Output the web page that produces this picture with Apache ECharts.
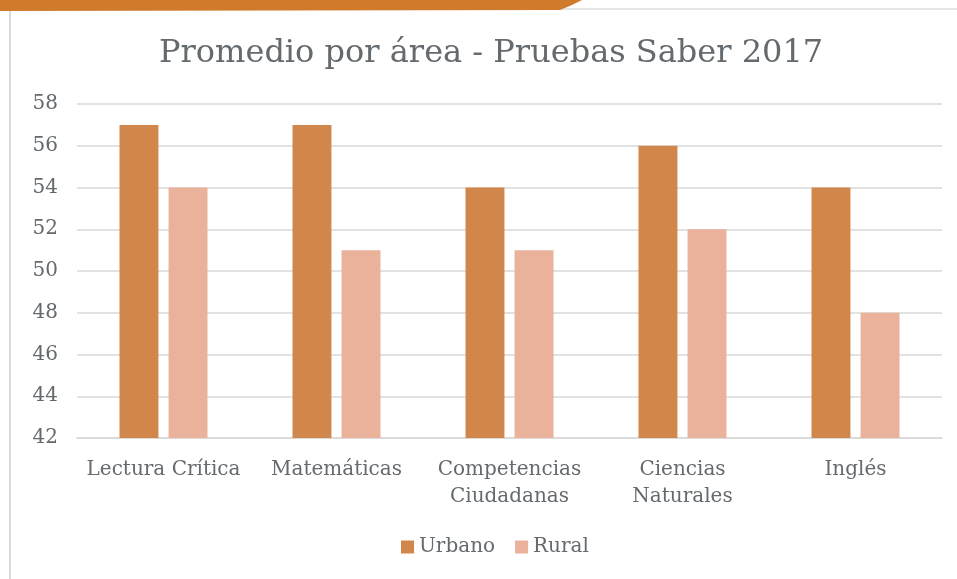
<!DOCTYPE html>
<html>
<head>
<meta charset="utf-8">
<script src="https://cdn.jsdelivr.net/npm/echarts@6/dist/echarts.min.js"></script>
<style>
  html, body { margin: 0; padding: 0; background: #fff; }
  #chart { width: 957px; height: 579px; }
</style>
</head>
<body>
<div id="chart"></div>
<script>
// datos
const categories = ['Lectura Crítica', 'Matemáticas', 'Competencias\nCiudadanas', 'Ciencias\nNaturales', 'Inglés'];
const urbano = [57, 57, 54, 56, 54];
const rural = [54, 51, 51, 52, 48];

const textColor = '#646a6e';
const fontFamily = "Georgia, 'DejaVu Serif', 'Liberation Serif', serif";

const chart = echarts.init(document.getElementById('chart'));

chart.setOption({
    animation: false,
    textStyle: { fontFamily: fontFamily },
    title: {
        text: 'Promedio por área - Pruebas Saber 2017',
        left: 154,
        top: 33,
        textStyle: { color: textColor, fontSize: 32, fontWeight: 'normal', fontFamily: fontFamily }
    },
    legend: {
        data: ['Urbano', 'Rural'],
        bottom: 17,
        left: 396,
        itemWidth: 13,
        itemHeight: 13,
        itemGap: 20,
        icon: 'rect',
        textStyle: { color: textColor, fontSize: 20, fontFamily: fontFamily }
    },
    grid: { left: 77, right: 15, top: 104, bottom: 141 },
    xAxis: {
        type: 'category',
        data: categories,
        axisTick: { show: false },
        axisLine: { lineStyle: { color: '#d9d9d9', width: 1.5 } },
        axisLabel: { color: textColor, fontSize: 20, fontFamily: fontFamily, margin: 18, lineHeight: 27, interval: 0 }
    },
    yAxis: {
        type: 'value',
        min: 42,
        max: 58,
        interval: 2,
        axisLine: { show: false },
        axisTick: { show: false },
        axisLabel: { color: textColor, fontSize: 20, fontFamily: fontFamily, margin: 19 },
        splitLine: { lineStyle: { color: '#d9d9d9', width: 1.5 } }
    },
    series: [
        {
            name: 'Urbano',
            type: 'bar',
            data: urbano,
            barWidth: '22.5%',
            barGap: '26%',
            itemStyle: { color: '#d1864c' }
        },
        {
            name: 'Rural',
            type: 'bar',
            data: rural,
            barWidth: '22.5%',
            itemStyle: { color: '#eab19b' }
        }
    ],
    graphic: [
        // marco gris
        { type: 'line', shape: { x1: 10, y1: 8, x2: 10, y2: 579 }, style: { stroke: '#d8dadd', lineWidth: 2 } },
        { type: 'line', shape: { x1: 10, y1: 9, x2: 957, y2: 9 }, style: { stroke: '#e4e6e8', lineWidth: 2 } },
        // barra naranja superior
        { type: 'polygon', shape: { points: [[0, 0], [582, 0], [572, 5], [560, 10], [0, 11]] }, style: { fill: '#d07a2c' } }
    ]
});
</script>
</body>
</html>
